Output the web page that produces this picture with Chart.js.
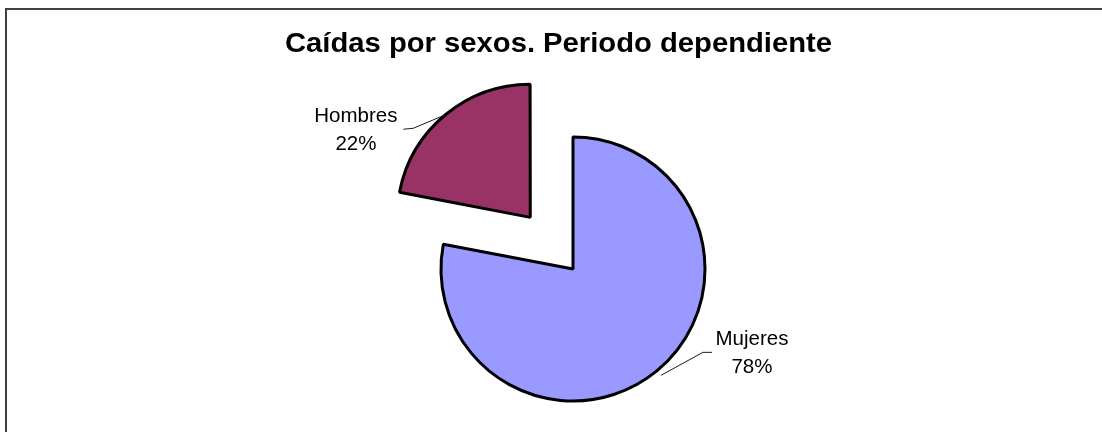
<!DOCTYPE html>
<html><head><meta charset="utf-8">
<script src="https://cdn.jsdelivr.net/npm/chart.js@4.4.1/dist/chart.umd.min.js"></script>
<style>html,body{margin:0;padding:0;background:#fff;}#wrap{width:1102px;height:432px;position:relative;}</style>
</head><body><div id="wrap"><canvas id="c" width="1102" height="432"></canvas></div>
<script>
const titleText = 'Caídas por sexos. Periodo dependiente';
const categories = ['Mujeres', 'Hombres'];
const values = [78, 22];
const sliceColors = ['#9999FF', '#993366'];
const explode = [0, 268];

const framePlugin = {
  id: 'frame',
  beforeDraw(chart) {
    const ctx = chart.ctx;
    ctx.save();
    ctx.fillStyle = '#ffffff';
    ctx.fillRect(0, 0, chart.width, chart.height);
    ctx.strokeStyle = '#404040';
    ctx.lineWidth = 2;
    ctx.beginPath();
    ctx.moveTo(6, chart.height + 5);
    ctx.lineTo(6, 9);
    ctx.lineTo(chart.width + 5, 9);
    ctx.stroke();
    ctx.restore();
  }
};

const titlePlugin = {
  id: 'stretchTitle',
  afterDraw(chart) {
    const ctx = chart.ctx;
    ctx.save();
    ctx.font = 'bold 27px "Liberation Sans", Arial, sans-serif';
    const w = ctx.measureText(titleText).width;
    const sx = 547 / w;
    ctx.translate(558.5, 52);
    ctx.scale(sx, 1);
    ctx.fillStyle = '#000';
    ctx.textAlign = 'center';
    ctx.textBaseline = 'alphabetic';
    ctx.fillText(titleText, 0, 0);
    ctx.restore();
  }
};

// label placement relative to the slice's mid-angle edge point
const labelStyle = [
  {ext: 6, tx: 91, ty: -30, ex: 42, ey: -23, hx: 51, hy: -23},
  {ext: 0, tx: -89.5, ty: 7.5, ex: -32, ey: 13.5, hx: -42, hy: 14.5}
];

const labelPlugin = {
  id: 'sliceLabels',
  afterDatasetsDraw(chart) {
    const ctx = chart.ctx;
    const meta = chart.getDatasetMeta(0);
    const total = values.reduce((a, b) => a + b, 0);
    meta.data.forEach((el, i) => {
      const p = el.getProps(['x', 'y', 'startAngle', 'endAngle', 'outerRadius'], true);
      const mid = (p.startAngle + p.endAngle) / 2;
      const circ = p.endAngle - p.startAngle;
      const off = (el.options.offset || 0) / 4;
      const fix = 1 - Math.sin(Math.min(Math.PI, circ));
      const t = off + off * fix;
      const cx = p.x + Math.cos(mid) * t;
      const cy = p.y + Math.sin(mid) * t;
      const s = labelStyle[i];
      const ax = cx + Math.cos(mid) * (p.outerRadius + s.ext);
      const ay = cy + Math.sin(mid) * (p.outerRadius + s.ext);
      ctx.save();
      ctx.strokeStyle = '#1a1a1a';
      ctx.lineWidth = 1;
      ctx.beginPath();
      ctx.moveTo(ax, ay);
      ctx.lineTo(ax + s.ex, ay + s.ey);
      ctx.lineTo(ax + s.hx, ay + s.hy);
      ctx.stroke();
      ctx.fillStyle = '#000';
      ctx.font = '20.5px "Liberation Sans", Arial, sans-serif';
      ctx.textAlign = 'center';
      ctx.textBaseline = 'alphabetic';
      const pct = Math.round(values[i] / total * 100) + '%';
      ctx.fillText(categories[i], ax + s.tx, ay + s.ty);
      ctx.fillText(pct, ax + s.tx, ay + s.ty + 28);
      ctx.restore();
    });
  }
};

new Chart(document.getElementById('c'), {
  type: 'pie',
  data: {
    labels: categories,
    datasets: [{
      data: values,
      backgroundColor: sliceColors,
      borderColor: '#000000',
      borderWidth: 3,
      offset: explode,
      hoverOffset: 0,
      radius: 132
    }]
  },
  options: {
    responsive: false,
    animation: false,
    events: [],
    layout: {padding: {left: 44, right: 0, top: 106, bottom: 0}},
    plugins: {
      legend: {display: false},
      title: {display: false},
      tooltip: {enabled: false}
    }
  },
  plugins: [framePlugin, labelPlugin, titlePlugin]
});
</script></body></html>
